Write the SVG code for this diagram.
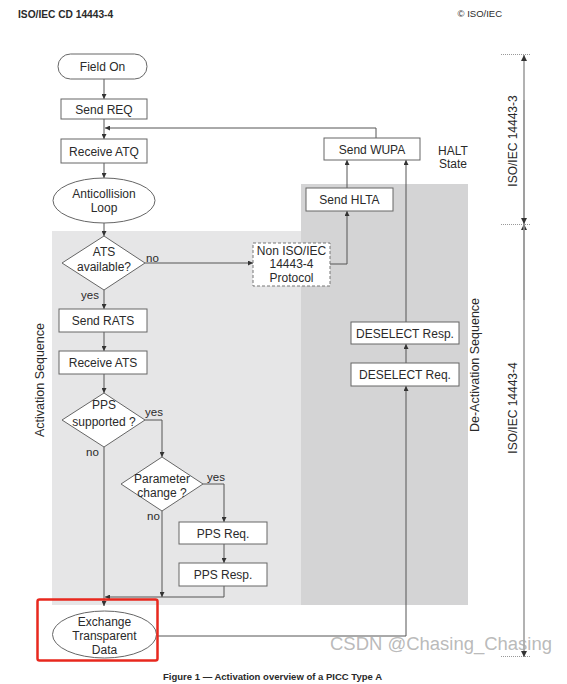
<svg xmlns="http://www.w3.org/2000/svg" width="567" height="684" viewBox="0 0 567 684">
<defs>
<style>
text{font-family:"Liberation Sans",Arial,sans-serif;fill:#2a2a2a;}
.n{font-size:12px;text-anchor:middle;}
.l{font-size:11.5px;}
.box{fill:#fff;stroke:#666;stroke-width:1;}
.dash{fill:#fff;stroke:#777;stroke-width:1;stroke-dasharray:3,2;}
.c{fill:none;stroke:#555;stroke-width:1;}
.ax{fill:none;stroke:#999;stroke-width:1.5;}
.tick{fill:none;stroke:#999;stroke-width:1;stroke-dasharray:1,1;}
.rot{font-size:12.5px;text-anchor:middle;}
</style>
<marker id="a" viewBox="0 0 6 6" refX="6" refY="3" markerWidth="5" markerHeight="5" orient="auto" markerUnits="userSpaceOnUse">
<path d="M0,0 L6,3 L0,6 z" fill="#333"/>
</marker>
<marker id="ag" viewBox="0 0 6 6" refX="6" refY="3" markerWidth="6" markerHeight="6" orient="auto" markerUnits="userSpaceOnUse">
<path d="M0,0 L6,3 L0,6 z" fill="#333"/>
</marker>
</defs>
<rect width="567" height="684" fill="#fff"/>
<text x="18" y="17.5" style="font-size:10.2px;font-weight:bold;">ISO/IEC CD 14443-4</text>
<text x="502" y="17" style="font-size:9.5px;text-anchor:end;">© ISO/IEC</text>

<g id="panels">
<rect x="52" y="231" width="249" height="374" fill="#e6e6e7"/>
<rect x="301" y="184" width="167" height="421" fill="#d4d4d5"/>
<text class="rot" transform="translate(44,380) rotate(-90)">Activation Sequence</text>
<text class="rot" transform="translate(479,365) rotate(-90)">De-Activation Sequence</text>
</g>

<g id="connectors">
<path class="c" d="M104,79 V99" marker-end="url(#a)"/>
<path class="c" d="M104,119 V139" marker-end="url(#a)"/>
<path class="c" d="M376,138 V128 H105" marker-end="url(#a)"/>
<path class="c" d="M104,163 V178" marker-end="url(#a)"/>
<path class="c" d="M104,223 V236" marker-end="url(#a)"/>
<path class="c" d="M145,263 H253" marker-end="url(#a)"/>
<path class="c" d="M104,290 V309" marker-end="url(#a)"/>
<path class="c" d="M104,332 V351" marker-end="url(#a)"/>
<path class="c" d="M104,374 V393" marker-end="url(#a)"/>
<path class="c" d="M145,420 H162 V457" marker-end="url(#a)"/>
<path class="c" d="M104,447 V606" marker-end="url(#a)"/>
<path class="c" d="M203,484 H224 V522" marker-end="url(#a)"/>
<path class="c" d="M224,544 V563" marker-end="url(#a)"/>
<path class="c" d="M224,586 V597 H105" marker-end="url(#a)"/>
<path class="c" d="M162,511 V597" marker-end="url(#a)"/>
<path class="c" d="M157,636 H406 V386" marker-end="url(#a)"/>
<path class="c" d="M406,363 V344" marker-end="url(#a)"/>
<path class="c" d="M406,322 V160" marker-end="url(#a)"/>
<path class="c" d="M330,264 H347 V211" marker-end="url(#a)"/>
<path class="c" d="M347,188 V160" marker-end="url(#a)"/>
</g>

<g id="labels">
<text class="l" x="146" y="262">no</text>
<text class="l" x="81" y="299">yes</text>
<text class="l" x="145" y="416">yes</text>
<text class="l" x="86" y="456">no</text>
<text class="l" x="207" y="481">yes</text>
<text class="l" x="147" y="520">no</text>
</g>

<g id="field-on"><rect class="box" x="58" y="54" width="89" height="25" rx="12.5"/><text class="n" x="102.5" y="71">Field On</text></g>
<g id="send-req"><rect class="box" x="61" y="99" width="86" height="20"/><text class="n" x="104" y="113.5">Send REQ</text></g>
<g id="receive-atq"><rect class="box" x="61" y="139" width="86" height="24"/><text class="n" x="104" y="155.5">Receive ATQ</text></g>
<g id="anticollision"><ellipse class="box" cx="104" cy="200.5" rx="51" ry="22.5"/><text class="n" x="104" y="198">Anticollision</text><text class="n" x="104" y="211.5">Loop</text></g>
<g id="ats-available"><path class="box" d="M104,236 L145,263 L104,290 L62,263 Z"/><text class="n" x="104" y="256">ATS</text><text class="n" x="104" y="271">available?</text></g>
<g id="send-rats"><rect class="box" x="59" y="309" width="88" height="23"/><text class="n" x="103" y="325">Send RATS</text></g>
<g id="receive-ats"><rect class="box" x="59" y="351" width="88" height="23"/><text class="n" x="103" y="367">Receive ATS</text></g>
<g id="pps-supported"><path class="box" d="M104,393 L145,420 L104,447 L62,420 Z"/><text class="n" x="104" y="409">PPS</text><text class="n" x="104" y="426">supported ?</text></g>
<g id="parameter-change"><path class="box" d="M162,457 L203,484 L162,511 L121,484 Z"/><text class="n" x="162" y="483">Parameter</text><text class="n" x="162" y="497">change ?</text></g>
<g id="pps-req"><rect class="box" x="179" y="522" width="88" height="22"/><text class="n" x="223" y="537.5">PPS Req.</text></g>
<g id="pps-resp"><rect class="box" x="179" y="563" width="88" height="23"/><text class="n" x="223" y="579">PPS Resp.</text></g>
<g id="exchange"><ellipse class="box" cx="104.5" cy="634.5" rx="52" ry="23.5"/><text class="n" x="104.5" y="626">Exchange</text><text class="n" x="104.5" y="640">Transparent</text><text class="n" x="104.5" y="653.5">Data</text></g>
<g id="non-iso"><rect class="dash" x="253" y="243" width="77" height="43"/><text class="n" x="291.5" y="254.5">Non ISO/IEC</text><text class="n" x="291.5" y="268">14443-4</text><text class="n" x="291.5" y="281.5">Protocol</text></g>
<g id="send-hlta"><rect class="box" x="306" y="188" width="87" height="23"/><text class="n" x="349.5" y="204">Send HLTA</text></g>
<g id="send-wupa"><rect class="box" x="324" y="138" width="96" height="22"/><text class="n" x="372" y="153.5">Send WUPA</text></g>
<g id="halt-state"><text class="n" x="453" y="155">HALT</text><text class="n" x="453" y="168">State</text></g>
<g id="deselect-resp"><rect class="box" x="351" y="322" width="108" height="22"/><text class="n" x="405" y="337.5">DESELECT Resp.</text></g>
<g id="deselect-req"><rect class="box" x="351" y="363" width="108" height="23"/><text class="n" x="405" y="379">DESELECT Req.</text></g>

<g id="axis">
<path class="tick" d="M501,54.5 H530 M501,224.5 H530 M501,656.5 H530"/>
<path class="ax" d="M524,224 V55" marker-end="url(#ag)"/>
<path class="ax" d="M524,100 V224" marker-end="url(#ag)"/>
<path class="ax" d="M524,300 V224" marker-end="url(#ag)"/>
<path class="ax" d="M524,224 V657" marker-end="url(#ag)"/>
<text class="rot" style="font-size:12px" transform="translate(517,141) rotate(-90)">ISO/IEC 14443-3</text>
<text class="rot" style="font-size:12px" transform="translate(517,408) rotate(-90)">ISO/IEC 14443-4</text>
</g>

<rect id="highlight" x="37.5" y="599.5" width="120" height="61" rx="2" fill="none" stroke="#e8281e" stroke-width="2.5"/>
<text x="330" y="650" style="font-size:18px;fill:#a8a8a8;fill-opacity:0.8;" textLength="222" lengthAdjust="spacingAndGlyphs">CSDN @Chasing_Chasing</text>
<text x="272.5" y="680" style="font-size:9.2px;font-weight:bold;text-anchor:middle;" textLength="219" lengthAdjust="spacingAndGlyphs">Figure 1 — Activation overview of a PICC Type A</text>
</svg>
